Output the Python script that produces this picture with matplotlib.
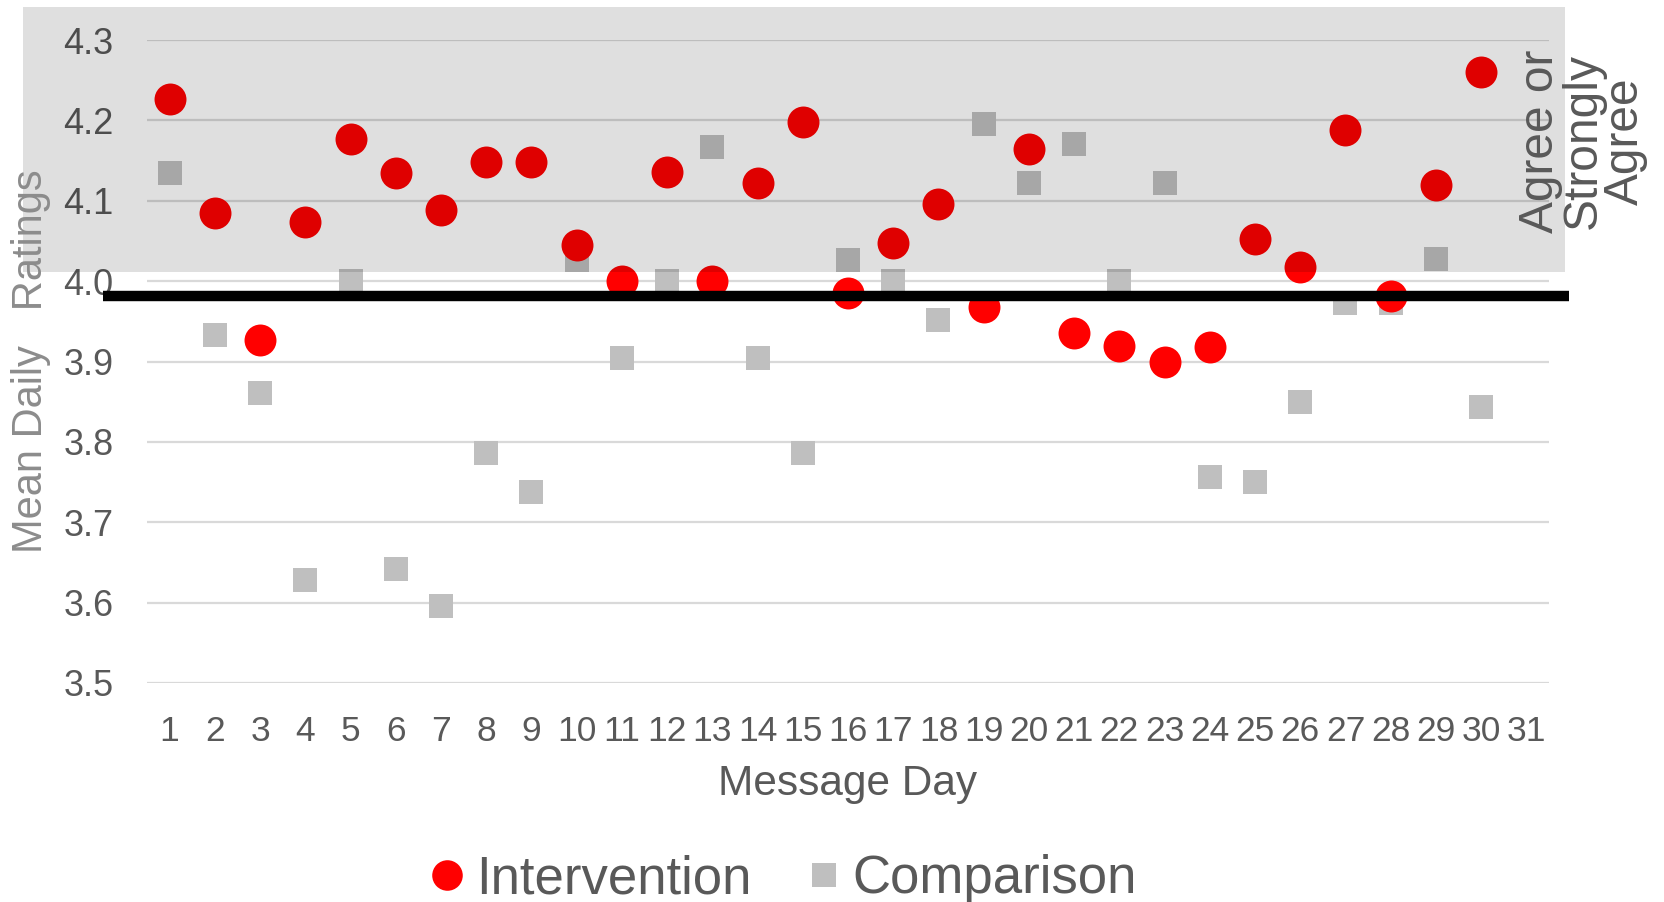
import matplotlib
matplotlib.use("Agg")
import matplotlib.pyplot as plt
from matplotlib import font_manager
from matplotlib.lines import Line2D
from matplotlib.patches import Rectangle

# ---------------- data ----------------
days = list(range(1, 32))
intervention = [4.226, 4.085, 3.927, 4.074, 4.177, 4.134, 4.089, 4.148, 4.148, 4.045,
                4.000, 4.136, 4.000, 4.122, 4.198, 3.985, 4.048, 4.096, 3.968, 4.165,
                3.935, 3.919, 3.900, 3.918, 4.052, 4.018, 4.188, 3.982, 4.119, 4.260]
comparison = [4.134, 3.933, 3.861, 3.628, 4.000, 3.642, 3.596, 3.786, 3.738, 4.026,
              3.904, 4.000, 4.167, 3.904, 3.786, 4.026, 4.000, 3.952, 4.196, 4.122,
              4.171, 4.000, 4.122, 3.756, 3.750, 3.850, 3.973, 3.973, 4.027, 3.843]
yticks = [3.5, 3.6, 3.7, 3.8, 3.9, 4.0, 4.1, 4.2, 4.3]
threshold = 3.982
band_low, band_high = 4.011, 4.341
series_names = ["Intervention", "Comparison"]
band_label = "Agree or\nStrongly\nAgree"

# ---------------- style ----------------
plt.rcParams['font.family'] = ['Liberation Sans', 'DejaVu Sans']
names = {f.name for f in font_manager.fontManager.ttflist}
narrow = 'Liberation Sans Narrow' if 'Liberation Sans Narrow' in names else 'Liberation Sans'
TXT = '#595959'
RED = '#FF0000'
GRAY = '#BFBFBF'

W, H = 1664, 902
fig = plt.figure(figsize=(W / 100, H / 100), dpi=100)
ax = fig.add_axes([147 / W, 1 - 683 / H, 1402 / W, (683 - 40) / H])

ax.scatter(days[:len(intervention)], intervention, s=23 ** 2, marker='o',
           color=RED, linewidths=0, zorder=3)
ax.scatter(days[:len(comparison)], comparison, s=17.5 ** 2, marker='s',
           color=GRAY, linewidths=0, zorder=2.5)

ax.set_xlim(0.5, 31.5)
ax.set_ylim(3.5, 4.3)
ax.set_yticks(yticks)
ax.set_yticklabels([f"{v:.1f}" for v in yticks])
ax.set_xticks(days)
ax.set_xticklabels([str(d) for d in days])
ax.grid(axis='y', color='#D9D9D9', linewidth=1.6, zorder=0)
ax.set_axisbelow(True)
for sp in ax.spines.values():
    sp.set_visible(False)
ax.tick_params(axis='both', length=0, colors=TXT)
ax.tick_params(axis='y', labelsize=26, pad=24)
ax.tick_params(axis='x', labelsize=25.5, pad=23)
for lab in ax.get_xticklabels():
    lab.set_family([narrow, 'DejaVu Sans'])

# translucent band (drawn above the markers, as in the reference)
band = Rectangle((-2.24, band_low), 31.85 - (-2.24), band_high - band_low,
                 facecolor='black', alpha=0.125, edgecolor='none',
                 zorder=4, clip_on=False)
ax.add_patch(band)

# threshold line
ax.plot([-0.47, 31.94], [threshold, threshold], color='black', linewidth=7.5,
        solid_capstyle='butt', zorder=5, clip_on=False)

# band label
fig.text(1583 / W, 1 - 141 / H, band_label, rotation=90, ha='center', va='center',
         multialignment='center', fontsize=34.5, color=TXT, linespacing=0.93)

# axis labels
fig.text(848 / W, 1 - 784 / H, "Message Day", ha='center', va='center',
         fontsize=30.5, color=TXT)
fig.text(31 / W, 1 - 361 / H, "Mean Daily   Ratings", rotation=90, ha='center',
         va='center', fontsize=30, color='#8C8C8C')

# legend
handles = [Line2D([], [], marker='o', linestyle='none', markersize=22,
                  markerfacecolor=RED, markeredgewidth=0),
           Line2D([], [], marker='s', linestyle='none', markersize=17,
                  markerfacecolor=GRAY, markeredgewidth=0)]
leg = fig.legend(handles, series_names, loc='center', ncol=2,
                 bbox_to_anchor=(779 / W, 1 - 879 / H), frameon=False,
                 fontsize=38, handletextpad=0.05, columnspacing=0.86,
                 handlelength=1.0, borderpad=0)
for t in leg.get_texts():
    t.set_color(TXT)

fig.savefig("out.png", dpi=100)
